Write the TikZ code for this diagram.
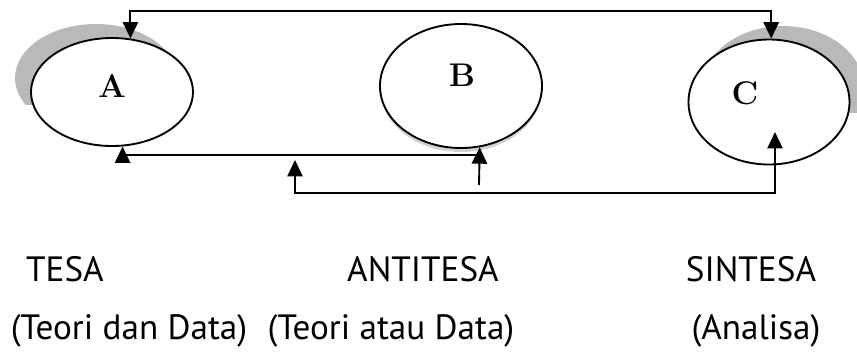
\documentclass[tikz,border=0pt]{standalone}
\usepackage{fontspec}
\newfontfamily\capfont{PT Sans}
\usetikzlibrary{arrows.meta,calc,shapes.geometric,positioning}

\begin{document}
\begin{tikzpicture}[x=0.03cm,y=-0.03cm,>={Triangle[length=14pt,width=13pt]},
  stage/.style={draw,ellipse,line width=1.6pt,fill=white,inner sep=0pt},
  shade/.style={fill=gray!55,draw=none},
  link/.style={line width=1.6pt},
  letter/.style={font=\fontsize{28}{30}\selectfont\bfseries},
  caption/.style={font=\capfont\fontsize{30}{34}\selectfont,anchor=base}]
  \useasboundingbox (0,0) rectangle (857,351);

  % shadows behind the stages
  \begin{scope}
    \clip (0,0) rectangle (857,104);
    \fill[shade] (96,78) ellipse [x radius=81,y radius=54];
  \end{scope}
  \begin{scope}
    \clip (0,0) rectangle (857,112);
    \fill[shade] (783,88) ellipse [x radius=81,y radius=62];
  \end{scope}
  \fill[gray!35] (461,91) ellipse [x radius=80,y radius=61];

  % the three stages
  \node[stage,minimum width=4.86cm,minimum height=3.24cm] (A) at (112,92) {};
  \node[stage,minimum width=4.86cm,minimum height=3.72cm] (B) at (461,86) {};
  \node[stage,minimum width=4.83cm,minimum height=3.75cm] (C) at (769,102) {};
  \node[letter] (lA) at (112,86) {A};
  \node[letter] (lB) at (462,75) {B};
  \node[letter] (lC) at (745,93) {C};

  % connectors
  \coordinate (top) at (0,11);
  \coordinate (mid) at (0,155);
  \coordinate (low) at (0,193);
  \coordinate (bfoot) at (479,185);
  \coordinate (ltip) at (295,160);
  \coordinate (ctip) at (775,132);
  \draw[link,<->] (A.71) -- (A.71 |- top) -- (C.88 |- top) -- (C.88);
  \draw[link,->] (bfoot) -- (B.-73);
  \draw[link,->] (B.-73 |- mid) -| (A.-79);
  \draw[link,<->] (ltip) |- (ctip |- low) -- (ctip);

  % captions
  \node[caption] (tesa) at (65,281) {TESA};
  \node[caption] (anti) at (423,281) {ANTITESA};
  \node[caption] (sint) at (751,281) {SINTESA};
  \node[caption] (tesasub) at (129,339) {(Teori dan Data)};
  \node[caption] (antisub) at (391,339) {(Teori atau Data)};
  \node[caption] (sintsub) at (756,339) {(Analisa)};
\end{tikzpicture}
\end{document}
